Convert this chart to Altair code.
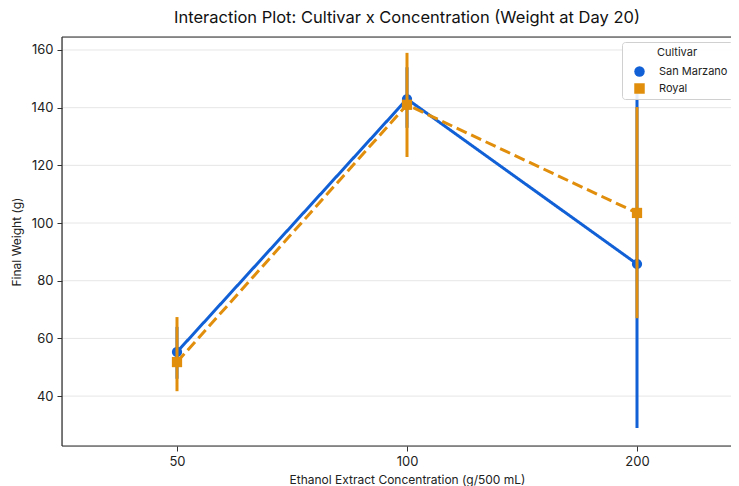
import altair as alt
import pandas as pd

concentrations = ["50", "100", "200"]
cultivars = ["San Marzano", "Royal"]
sm_mean = [55.3, 143.0, 85.8]
sm_lo = [46.0, 133.0, 28.9]
sm_hi = [64.0, 154.0, 147.0]
royal_mean = [51.8, 141.0, 103.5]
royal_lo = [41.7, 122.9, 67.0]
royal_hi = [67.4, 159.0, 140.2]
y_ticks = [40, 60, 80, 100, 120, 140, 160]

colors = ["#1160d6", "#e08e0b"]
shapes = ["circle", "square"]
dashes = [[1, 0], [11, 5]]

rows = []
for cult, means, los, his in [
    ("San Marzano", sm_mean, sm_lo, sm_hi),
    ("Royal", royal_mean, royal_lo, royal_hi),
]:
    for c, m, lo, hi in zip(concentrations, means, los, his):
        rows.append({"conc": c, "cultivar": cult, "mean": m, "lo": lo, "hi": hi})
df = pd.DataFrame(rows)
grid_df = pd.DataFrame({"tick": y_ticks})
one_df = pd.DataFrame({"a": [0]})

FONT = "Inter"
W_VISIBLE = 669   # the visible part of the plot area
W_FULL = 690      # full plot area (cut off by the window on the right)
H = 409
SPINE = "#2a2a2a"

x_enc = alt.X(
    "conc:O",
    sort=concentrations,
    scale=alt.Scale(type="point", padding=0.5, range=[0, W_FULL]),
    axis=alt.Axis(
        title="Ethanol Extract Concentration (g/500 mL)",
        titleX=W_FULL / 2,
        labelAngle=0,
        grid=False,
        domain=False,
        ticks=True,
        tickSize=5,
        tickColor="#333333",
        labelFontSize=13,
        labelColor="#222222",
        titleFontSize=12,
        titleFontWeight="normal",
        titleColor="#222222",
        titlePadding=6,
        labelPadding=4,
    ),
)
y_scale = alt.Scale(domain=[22.7, 164.5], nice=False, zero=False)
y_axis = alt.Axis(
    title="Final Weight (g)",
    values=y_ticks,
    grid=False,
    domain=False,
    tickSize=5,
    tickColor="#333333",
    labelFontSize=13,
    labelColor="#222222",
    titleFontSize=12,
    titleFontWeight="normal",
    titleColor="#222222",
    titlePadding=8,
    labelPadding=4,
)

grid = alt.Chart(grid_df).mark_rule(color="#e6e6e6", strokeWidth=1).encode(
    y=alt.Y("tick:Q", scale=y_scale, axis=y_axis),
    x=alt.value(0),
    x2=alt.value(W_FULL),
)

layers = [grid]
for i, cult in enumerate(cultivars):
    base = alt.Chart(df).transform_filter(alt.datum.cultivar == cult)
    rule = base.mark_rule(strokeWidth=3, color=colors[i]).encode(
        x=x_enc,
        y=alt.Y("lo:Q", scale=y_scale, axis=y_axis),
        y2="hi:Q",
    )
    line = base.mark_line(strokeWidth=3, color=colors[i], strokeDash=dashes[i]).encode(
        x=x_enc,
        y=alt.Y("mean:Q", scale=y_scale, axis=y_axis),
        order=alt.Order("order_idx:Q"),
    ).transform_calculate(
        order_idx="indexof(['50','100','200'], datum.conc)"
    )
    pts = base.mark_point(filled=True, opacity=1, size=105).encode(
        x=x_enc,
        y=alt.Y("mean:Q", scale=y_scale, axis=y_axis),
        color=alt.Color(
            "cultivar:N",
            scale=alt.Scale(domain=cultivars, range=colors),
            legend=alt.Legend(
                title="Cultivar",
                orient="none",
                legendX=560,
                legendY=5,
                titleAnchor="middle",
                titleFontSize=11,
                titleFontWeight="normal",
                titleColor="#222222",
                titlePadding=8,
                labelFontSize=11,
                labelColor="#222222",
                symbolSize=110,
                symbolStrokeWidth=0,
                fillColor="rgba(255,255,255,0.9)",
                strokeColor="#d0d0d0",
                cornerRadius=3,
                padding=5,
                rowPadding=5,
                symbolOffset=7,
                labelOffset=14,
            ),
        ),
        shape=alt.Shape(
            "cultivar:N",
            scale=alt.Scale(domain=cultivars, range=shapes),
            legend=alt.Legend(
                title="Cultivar",
                orient="none",
                legendX=560,
                legendY=5,
            ),
        ),
    )
    layers += [rule, line, pts]

spine_top = alt.Chart(one_df).mark_rule(color=SPINE, strokeWidth=1.2).encode(
    x=alt.value(0), x2=alt.value(W_FULL), y=alt.value(0)
)
spine_bottom = alt.Chart(one_df).mark_rule(color=SPINE, strokeWidth=1.2).encode(
    x=alt.value(0), x2=alt.value(W_FULL), y=alt.value(H)
)
spine_left = alt.Chart(one_df).mark_rule(color=SPINE, strokeWidth=1.2).encode(
    x=alt.value(0), y=alt.value(0), y2=alt.value(H)
)
layers += [spine_top, spine_bottom, spine_left]

chart = alt.layer(*layers).properties(
    width=W_VISIBLE,
    height=H,
    title=alt.Title(
        "Interaction Plot: Cultivar x Concentration (Weight at Day 20)",
        fontSize=16.5,
        fontWeight="normal",
        color="#111111",
        offset=10,
        anchor="middle",
        frame="group",
        dx=10.5,
    ),
    autosize=alt.AutoSizeParams(type="none"),
    padding={"left": 54, "top": 29, "right": 0, "bottom": 40},
).configure_view(
    strokeWidth=0
).configure(font=FONT, background="white")

chart.save("out.html", embed_options={"renderer": "svg", "actions": False})
